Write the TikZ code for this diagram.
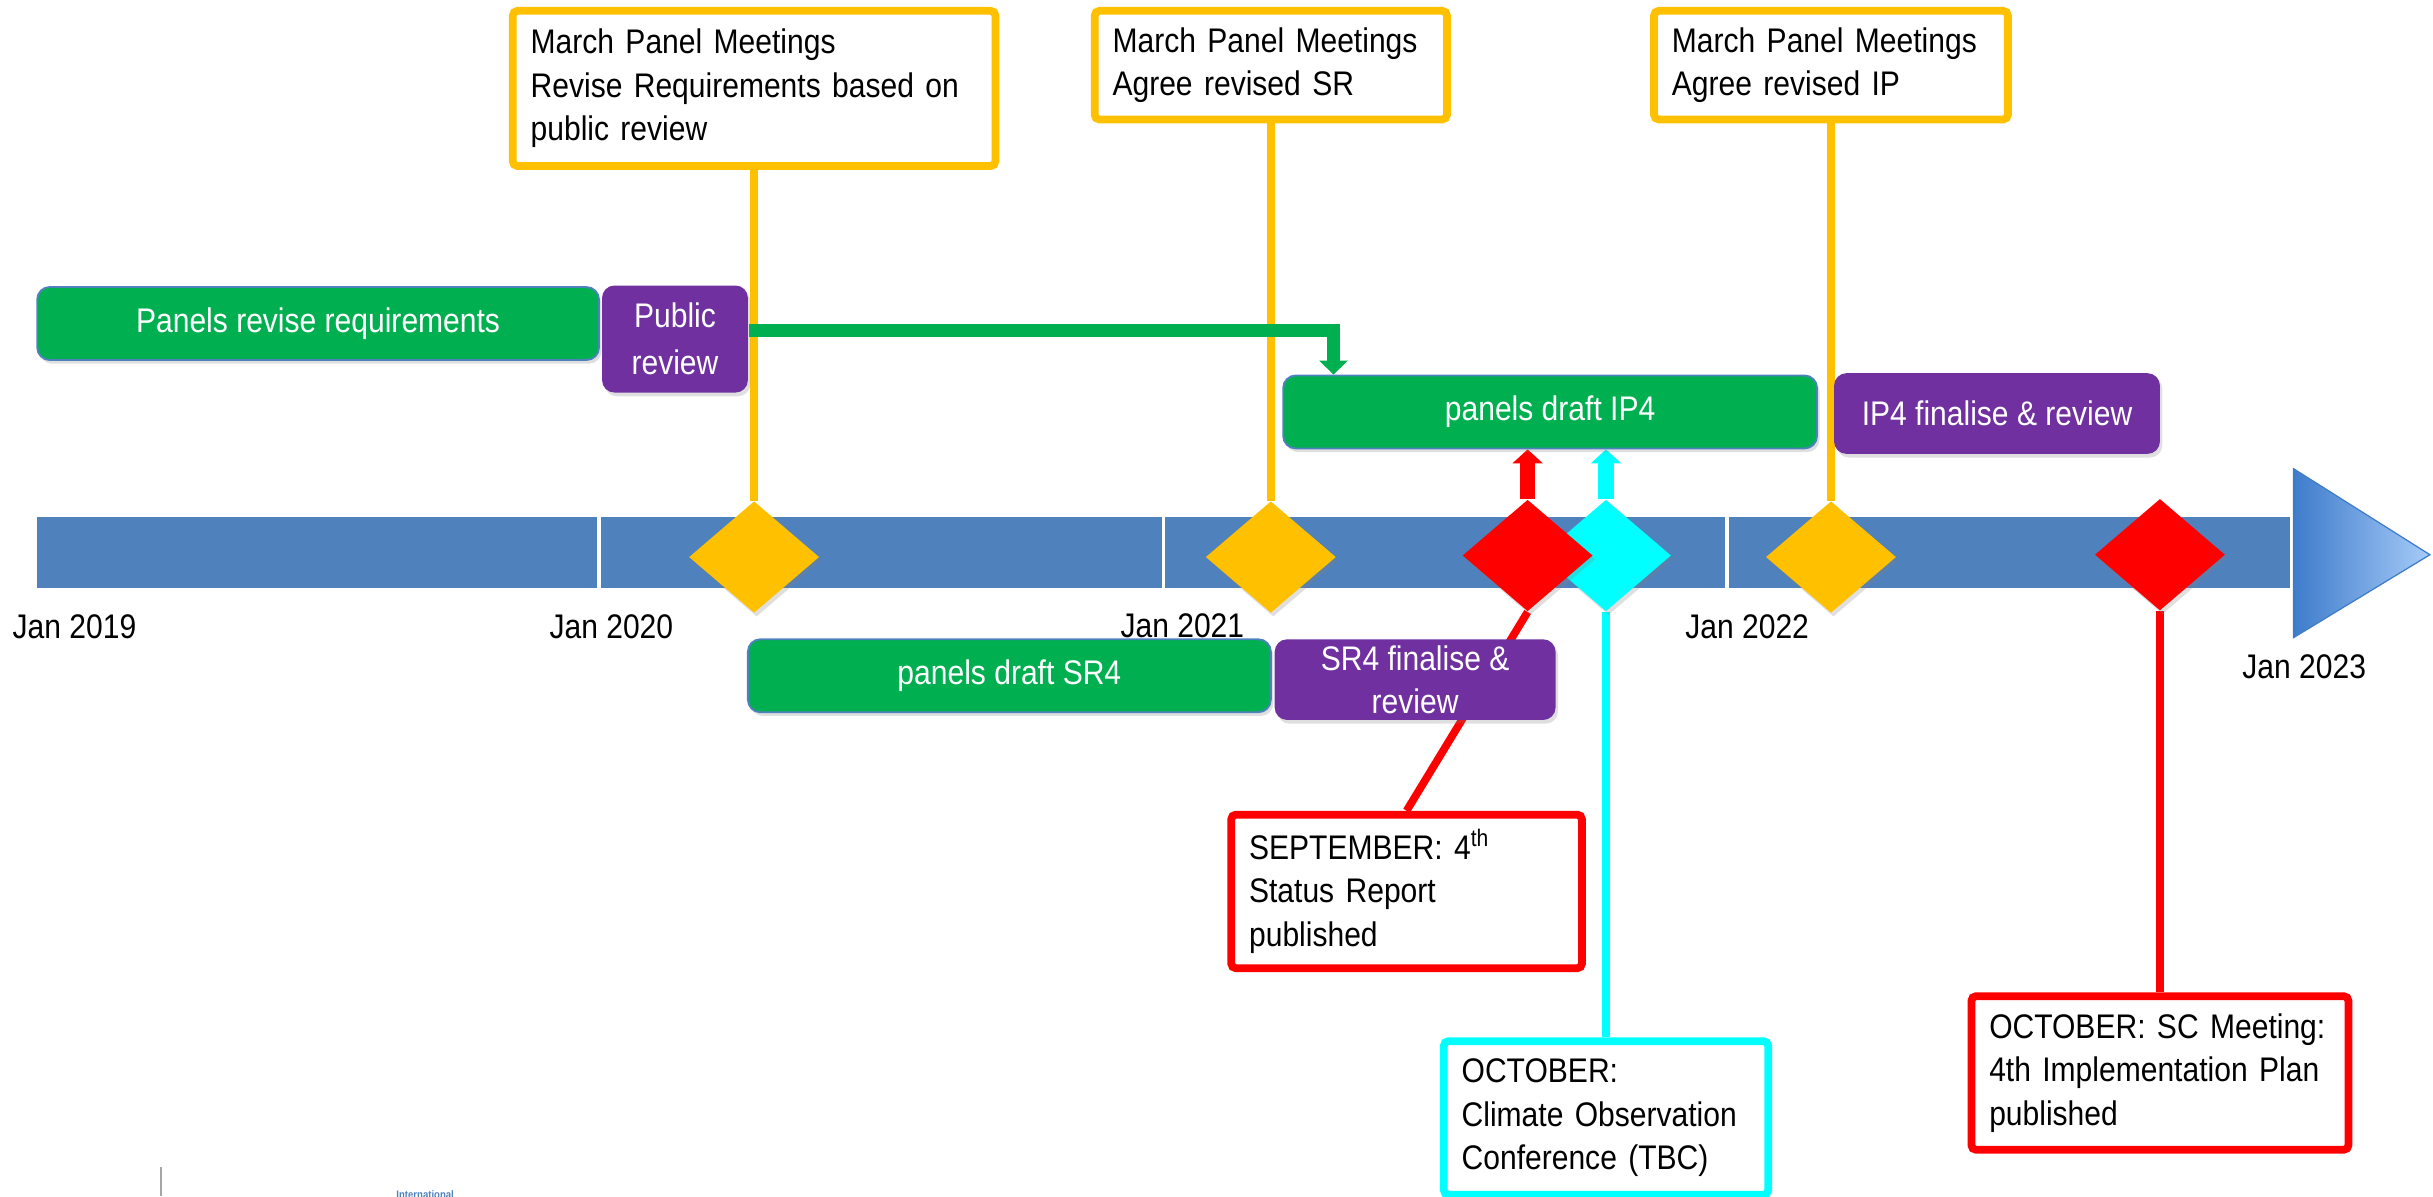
\documentclass[tikz,border=0pt]{standalone}
\usepackage{fontspec}
\setmainfont{Liberation Sans}[FakeStretch=0.88]
\usetikzlibrary{shapes.geometric,arrows.meta,shadows}

\definecolor{tlblue}{HTML}{4F81BD}
\definecolor{triL}{HTML}{3E7CCB}
\definecolor{triR}{HTML}{A6CBF8}
\definecolor{gold}{HTML}{FFC000}
\definecolor{ggreen}{HTML}{00B050}
\definecolor{gpurple}{HTML}{7030A0}
\definecolor{sred}{HTML}{FF0000}
\definecolor{scyan}{HTML}{00FFFF}

\pgfdeclarelayer{bg}
\pgfdeclarelayer{links}
\pgfsetlayers{bg,links,main}

\tikzset{
  softshadow/.style={drop shadow={opacity=0.25,shadow xshift=0.8pt,shadow yshift=-1.2pt}},
  task/.style={rounded corners=4pt,text=white,align=center,inner sep=1pt,minimum height=23.5pt,softshadow},
  green-task/.style={task,fill=ggreen,draw=tlblue,line width=0.6pt},
  purple-task/.style={task,fill=gpurple},
  milestone/.style={diamond,fill=#1,inner sep=0pt,minimum width=42pt,minimum height=36pt,softshadow},
  callout/.style={draw=#1,line width=2.5pt,fill=white,rounded corners=1.5pt,align=left,anchor=north,inner xsep=5.75pt,inner ysep=3pt},
  stem/.style={draw=#1,line width=2.5pt},
  flow/.style={draw=ggreen,line width=4.5pt,-{Triangle[width=9pt,length=4.5pt]}},
  uparrow/.style={draw=#1,line width=5pt,-{Triangle[width=9.5pt,length=4.5pt]}},
  datelabel/.style={inner sep=0pt}
}

\begin{document}
\begin{tikzpicture}[x=50pt,y=-50pt,font=\fontsize{11}{14}\selectfont]
\useasboundingbox (0,0) rectangle (15.68,7.71);

%timeline
\begin{pgfonlayer}{bg}
\fill[tlblue] (0.24,3.33) rectangle (14.76,3.79);
\foreach \x in {3.86,7.50,11.13}
  \draw[white,line width=1pt] (\x,3.33) -- (\x,3.79);
\shadedraw[left color=triL,right color=triR,draw=triL,line width=0.4pt] (14.78,3.02) -- (15.66,3.575) -- (14.78,4.11) -- cycle;
\end{pgfonlayer}

%years
\node[datelabel] (y2019) at (0.48,4.04) {Jan 2019};
\node[datelabel] (y2020) at (3.94,4.04) {Jan 2020};
\node[datelabel] (y2021) at (7.62,4.03) {Jan 2021};
\node[datelabel] (y2022) at (11.26,4.04) {Jan 2022};
\node[datelabel] (y2023) at (14.85,4.30) {Jan 2023};

%milestones
\node[milestone=gold] (march-a) at (4.86,3.59) {};
\node[milestone=gold] (march-b) at (8.19,3.59) {};
\node[milestone=gold] (march-c) at (11.80,3.59) {};
\node[milestone=scyan] (conference) at (10.35,3.58) {};
\node[milestone=sred] (sept-report) at (9.845,3.58) {};
\node[milestone=sred] (oct-plan) at (13.92,3.575) {};

%tasks
\node[green-task,minimum width=181pt] (revise) at (2.05,2.085) {Panels revise requirements};
\node[purple-task,minimum width=47pt,minimum height=34.5pt,font=\fontsize{11}{15}\selectfont] (public) at (4.35,2.185) {Public\\review};
\node[green-task,minimum width=172pt] (ip4-draft) at (9.99,2.655) {panels draft IP4};
\node[purple-task,minimum width=105pt,minimum height=26pt] (ip4-final) at (12.87,2.665) {IP4 finalise \& review};
\node[green-task,minimum width=168.5pt] (sr4-draft) at (6.505,4.355) {panels draft SR4};
\node[purple-task,minimum width=90.5pt,minimum height=26pt] (sr4-final) at (9.12,4.38) {SR4 finalise \&\\review};

%callouts
\node[callout=gold,text width=144pt,minimum height=50pt] (meeting-a) at (4.86,0.045) {March Panel Meetings\\Revise Requirements based on\\public review};
\node[callout=gold,text width=102pt,minimum height=35pt] (meeting-b) at (8.19,0.045) {March Panel Meetings\\Agree revised SR};
\node[callout=gold,text width=102.5pt,minimum height=35pt] (meeting-c) at (11.80,0.045) {March Panel Meetings\\Agree revised IP};
\node[callout=sred,text width=101.5pt,minimum height=49.5pt] (status-report) at (9.065,5.225) {SEPTEMBER: 4\textsuperscript{th}\\Status Report\\published};
\node[callout=scyan,text width=93pt,minimum height=49.5pt] (climate-conf) at (10.35,6.685) {OCTOBER:\\Climate Observation\\Conference (TBC)};
\node[callout=sred,text width=110pt,minimum height=49.5pt] (sc-meeting) at (13.92,6.395) {OCTOBER: SC Meeting:\\4th Implementation Plan\\published};

%connectors
\begin{pgfonlayer}{links}
\draw[stem=gold] (meeting-a) -- (march-a);
\draw[stem=gold] (meeting-b) -- (march-b);
\draw[stem=gold] (meeting-c) -- (march-c);
\draw[stem=sred] (sept-report.south) -- (status-report.north);
\draw[stem=scyan] (conference) -- (climate-conf);
\draw[stem=sred] (oct-plan) -- (sc-meeting);
\draw[flow] ([yshift=2.75pt]public.east) -| ([xshift=16.5pt]ip4-draft.north west);
\draw[uparrow=sred] (sept-report.north) -- (sept-report.north |- ip4-draft.south);
\draw[uparrow=scyan] (conference.north) -- (conference.north |- ip4-draft.south);
\end{pgfonlayer}

%logo (cut off)
\draw[gray!70,line width=0.6pt] (1.04,7.52) -- (1.04,7.71);
\node[font=\fontsize{3.5}{4}\selectfont\bfseries,text=tlblue] (logo-text) at (2.74,7.70) {International};
\end{tikzpicture}
\end{document}
